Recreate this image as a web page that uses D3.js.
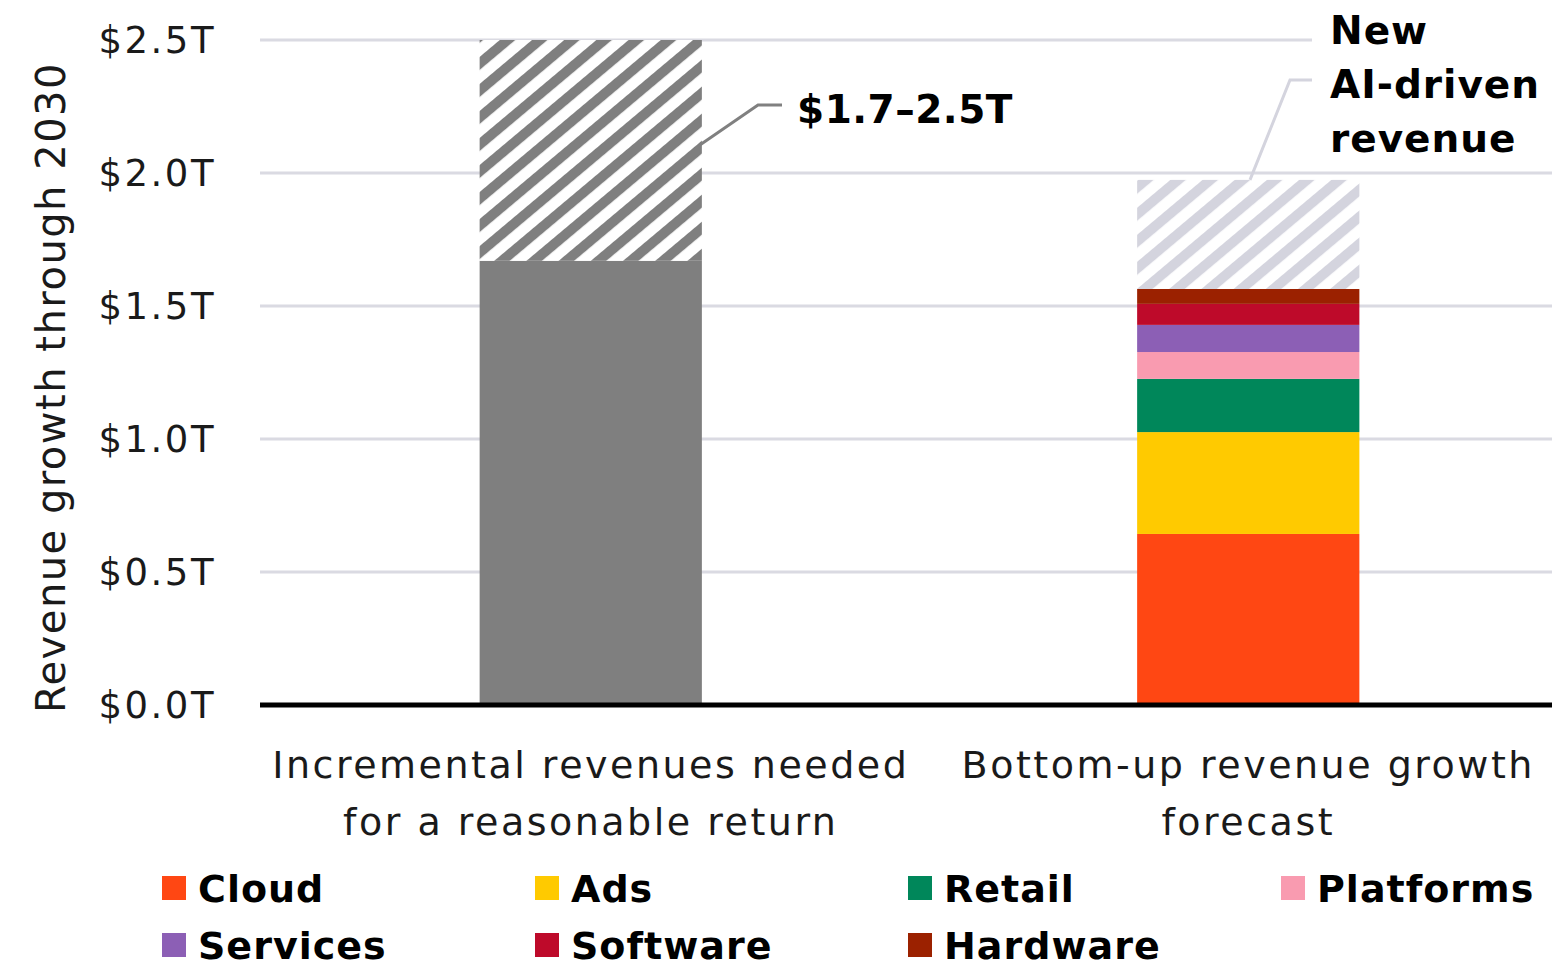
<!DOCTYPE html>
<html>
<head>
<meta charset="utf-8">
<script src="https://cdn.jsdelivr.net/npm/d3@7"></script>
<style>
  body { margin: 0; background: #fff; }
  svg { display: block; }
</style>
</head>
<body>
<svg width="1552" height="967"></svg>
<script>
// data (trillions of dollars)
var categories = ["needed", "forecast"];
var categoryLines = [
	["Incremental revenues needed", "for a reasonable return"],
	["Bottom-up revenue growth", "forecast"]
];
var neededRange = [1.67, 2.5];
var segments = ["Cloud", "Ads", "Retail", "Platforms", "Services", "Software", "Hardware"];
var segmentValues = [0.643, 0.383, 0.200, 0.101, 0.102, 0.079, 0.056];
var segmentColors = ["#ff4713", "#ffca00", "#00875a", "#f99bb0", "#8c5fb5", "#be0a2a", "#9b2100"];
var newAiValue = 0.41;
var yTicks = [0, 0.5, 1.0, 1.5, 2.0, 2.5];

var svg = d3.select("svg");
var width = 1552, height = 967;

var y = d3.scaleLinear().domain([0, 2.5]).range([705, 40]);
var x = d3.scaleBand().domain(categories).range([262, 1577])
	.paddingInner(0.662).paddingOuter(0.331);

// hatch patterns
var defs = svg.append("defs");
function hatch(id, color) {
	var p = defs.append("pattern")
		.attr("id", id)
		.attr("patternUnits", "userSpaceOnUse")
		.attr("width", 40).attr("height", 20.7)
		.attr("patternTransform", "rotate(-40)");
	p.append("rect").attr("width", 40).attr("height", 20.7).attr("fill", "#fff");
	p.append("rect").attr("y", 0).attr("width", 40).attr("height", 10).attr("fill", color);
}
hatch("hatchDark", "#7f7f7f");
hatch("hatchLight", "#d4d4de");

// gridlines
svg.append("g")
	.selectAll("line")
	.data(yTicks.slice(1))
	.enter()
	.append("line")
	.attr("x1", 260).attr("x2", width)
	.attr("y1", function(d) { return y(d); })
	.attr("y2", function(d) { return y(d); })
	.attr("stroke", "#dadae2")
	.attr("stroke-width", 3);

// y tick labels
svg.append("g")
	.selectAll("text")
	.data(yTicks)
	.enter()
	.append("text")
	.attr("x", 216)
	.attr("y", function(d) { return y(d); })
	.attr("dy", "0.36em")
	.attr("text-anchor", "end")
	.style("font-family", "DejaVu Sans")
	.style("font-size", "37px")
	.style("letter-spacing", "2.5px")
	.attr("fill", "#1a1a1a")
	.text(function(d) { return "$" + d.toFixed(1) + "T"; });

// y axis title
svg.append("text")
	.attr("transform", "translate(65," + ((60 + 715) / 2) + ") rotate(-90)")
	.attr("text-anchor", "middle")
	.style("font-family", "DejaVu Sans")
	.style("font-size", "40px")
	.style("letter-spacing", "1.5px")
	.attr("fill", "#1a1a1a")
	.text("Revenue growth through 2030");

// bar 1: needed revenue
var bw = x.bandwidth();
svg.append("rect")
	.attr("x", x("needed")).attr("width", bw)
	.attr("y", y(neededRange[0])).attr("height", y(0) - y(neededRange[0]))
	.attr("fill", "#7f7f7f");
svg.append("rect")
	.attr("x", x("needed")).attr("width", bw)
	.attr("y", y(neededRange[1])).attr("height", y(neededRange[0]) - y(neededRange[1]))
	.attr("fill", "url(#hatchDark)");

// bar 2: stacked forecast
var tops = d3.cumsum(segmentValues);
svg.append("g")
	.selectAll("rect")
	.data(segments)
	.enter()
	.append("rect")
	.attr("x", x("forecast")).attr("width", bw)
	.attr("y", function(d, i) { return y(tops[i]); })
	.attr("height", function(d, i) { return y(tops[i] - segmentValues[i]) - y(tops[i]); })
	.attr("fill", function(d, i) { return segmentColors[i]; });
var stackTop = tops[tops.length - 1];
svg.append("rect")
	.attr("x", x("forecast")).attr("width", bw)
	.attr("y", y(stackTop + newAiValue)).attr("height", y(stackTop) - y(stackTop + newAiValue))
	.attr("fill", "url(#hatchLight)");

// baseline
svg.append("line")
	.attr("x1", 260).attr("x2", width)
	.attr("y1", y(0)).attr("y2", y(0))
	.attr("stroke", "#000").attr("stroke-width", 5);

// category labels
categories.forEach(function(c, i) {
	var t = svg.append("text")
		.attr("text-anchor", "middle")
		.style("font-family", "DejaVu Sans")
		.style("font-size", "38px")
		.style("letter-spacing", "2.5px")
		.attr("fill", "#1a1a1a");
	categoryLines[i].forEach(function(line, j) {
		t.append("tspan")
			.attr("x", x(c) + bw / 2)
			.attr("y", 778 + j * 57)
			.text(line);
	});
});

// annotation: $1.7-2.5T
var bx1 = x("needed") + bw;
svg.append("path")
	.attr("d", d3.line()([[bx1 - 2, 145], [758, 105], [782, 105]]))
	.attr("fill", "none").attr("stroke", "#808080").attr("stroke-width", 3);
svg.append("text")
	.attr("x", 797).attr("y", 123)
	.style("font-family", "DejaVu Sans")
	.style("font-weight", "bold")
	.style("font-size", "39px")
	.style("letter-spacing", "0.5px")
	.attr("fill", "#000")
	.text("$1.7\u20132.5T");

// annotation: New AI-driven revenue
svg.append("rect")
	.attr("x", 1312).attr("y", 0).attr("width", 240).attr("height", 162)
	.attr("fill", "#fff");
svg.append("path")
	.attr("d", d3.line()([[1250, y(stackTop + newAiValue)], [1290, 80], [1312, 80]]))
	.attr("fill", "none").attr("stroke", "#d4d4de").attr("stroke-width", 3);
var nt = svg.append("text")
	.style("font-family", "DejaVu Sans")
	.style("font-weight", "bold")
	.style("font-size", "39px")
	.style("letter-spacing", "1px")
	.attr("fill", "#000");
["New", "AI-driven", "revenue"].forEach(function(line, j) {
	nt.append("tspan").attr("x", 1330).attr("y", 44 + j * 54).text(line);
});

// legend
var legend = svg.append("g")
	.selectAll("g")
	.data(segments)
	.enter()
	.append("g")
	.attr("transform", function(d, i) {
		return "translate(" + (162 + (i % 4) * 373) + "," + (888 + Math.floor(i / 4) * 57) + ")";
	});
legend.append("rect")
	.attr("x", 0).attr("y", -12)
	.attr("width", 24).attr("height", 24)
	.attr("fill", function(d, i) { return segmentColors[i]; });
legend.append("text")
	.attr("x", 36).attr("dy", "0.36em")
	.style("font-family", "DejaVu Sans")
	.style("font-weight", "bold")
	.style("font-size", "38px")
	.style("letter-spacing", "1px")
	.attr("fill", "#000")
	.text(function(d) { return d; });
</script>
</body>
</html>
